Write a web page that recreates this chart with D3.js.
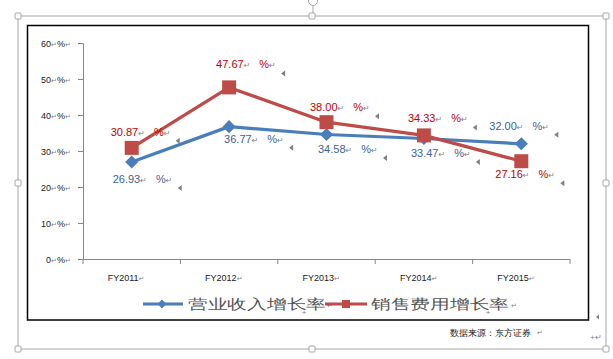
<!DOCTYPE html>
<html><head><meta charset="utf-8">
<script src="https://cdn.jsdelivr.net/npm/d3@7"></script>
<style>
html,body{margin:0;padding:0;background:#fff;}
svg{display:block;}
text{font-family:"Liberation Sans",Arial,sans-serif;}
</style></head>
<body>
<svg id="chart" width="613" height="359"></svg>
<script>
// ---- data ----
const categories = ["FY2011","FY2012","FY2013","FY2014","FY2015"];
const revenueGrowth = [26.93, 36.77, 34.58, 33.47, 32.00];
const sellingExpenseGrowth = [30.87, 47.67, 38.00, 34.33, 27.16];
const yTicks = [0, 10, 20, 30, 40, 50, 60];
const seriesNames = ["营业收入增长率", "销售费用增长率"];
const sourceNote = "数据来源：东方证券";

// ---- layout (label nudges, not data) ----
const revenueLabelOffsets = [[-19, 21], [-5, 16], [-8.5, 18.5], [-13, 18.5], [-32, -14]];
const expenseLabelOffsets = [[-21, -12], [-13, -19], [-16.5, -11], [-16, -13], [-26, 17]];

const svg = d3.select("#chart");
const arrowColor = "#7f7f7f";

// outer word frame
const frame = {l: 18, t: 16, r: 606, b: 349};
svg.append("rect").attr("x", frame.l).attr("y", frame.t)
  .attr("width", frame.r - frame.l).attr("height", frame.b - frame.t)
  .attr("fill", "none").attr("stroke", "#a6a6a6").attr("stroke-width", 1);
// rotation handle
svg.append("line").attr("x1", 313).attr("x2", 313).attr("y1", 6).attr("y2", 16).attr("stroke", "#a6a6a6");
svg.append("circle").attr("cx", 313).attr("cy", 1).attr("r", 4.5).attr("fill", "#fff").attr("stroke", "#a6a6a6");
const midX = (frame.l + frame.r) / 2, midY = 183;
const handles = [[frame.l, frame.t], [midX, frame.t], [frame.r, frame.t], [frame.l, midY], [frame.r, midY],
                 [frame.l, frame.b], [midX, frame.b], [frame.r, frame.b]];
svg.selectAll("rect.h").data(handles).join("rect").attr("class", "h")
  .attr("x", d => d[0] - 3).attr("y", d => d[1] - 3).attr("width", 6).attr("height", 6)
  .attr("rx", 1).attr("fill", "#fff").attr("stroke", "#a6a6a6");

// inner chart border
svg.append("rect").attr("x", 27.5).attr("y", 25.5).attr("width", 561).attr("height", 294.5)
  .attr("fill", "none").attr("stroke", "#000").attr("stroke-width", 1.5);

// scales
const x = d3.scaleBand().domain(categories).range([83, 570]);
const y = d3.scaleLinear().domain([0, 60]).range([259, 43]);
const axisColor = "#868686";

// y axis
const yAxis = svg.append("g").attr("transform", "translate(83,0)")
  .call(d3.axisLeft(y).tickValues(yTicks).tickSize(5).tickFormat(""));
yAxis.select(".domain").attr("stroke", axisColor);
yAxis.selectAll(".tick line").attr("stroke", axisColor);
const yl = svg.append("g").selectAll("text").data(yTicks).join("text")
  .attr("y", d => y(d) + 3.5)
  .attr("font-size", 9).attr("fill", "#222");
yl.each(function(d) {
  const t = d3.select(this);
  const s = String(d);
  t.attr("x", 72 - 21 - s.length * 5);
  t.append("tspan").text(s);
  t.append("tspan").text("↵").attr("font-size", 7).attr("fill", arrowColor).attr("font-family", "DejaVu Sans");
  t.append("tspan").text("%");
  t.append("tspan").text("↵").attr("font-size", 7).attr("fill", arrowColor).attr("font-family", "DejaVu Sans");
});

// x axis
const xAxis = svg.append("g").attr("transform", "translate(0,259)")
  .call(d3.axisBottom(x).tickSize(0).tickFormat(""));
xAxis.select(".domain").attr("stroke", axisColor).attr("d", "M83,0.5H570");
const bounds = [83].concat(categories.map(c => x(c) + x.bandwidth()));
svg.append("g").selectAll("line").data(bounds).join("line")
  .attr("x1", d => d).attr("x2", d => d).attr("y1", 259).attr("y2", 264)
  .attr("stroke", axisColor);
svg.append("g").selectAll("text").data(categories).join("text")
  .attr("x", d => x(d) + x.bandwidth() / 2 - 24).attr("y", 281)
  .attr("font-size", 9).attr("fill", "#222")
  .each(function(d) {
    const t = d3.select(this);
    t.append("tspan").text(d);
    t.append("tspan").text("↵").attr("font-size", 7).attr("fill", arrowColor).attr("font-family", "DejaVu Sans");
  });

const cx = c => x(c) + x.bandwidth() / 2;
const blue = "#4a7ebb", red = "#be4b48";
const line = d3.line().x(d => cx(d.c)).y(d => y(d.v));
const revData = categories.map((c, i) => ({c, v: revenueGrowth[i], o: revenueLabelOffsets[i]}));
const expData = categories.map((c, i) => ({c, v: sellingExpenseGrowth[i], o: expenseLabelOffsets[i]}));

svg.append("path").datum(revData).attr("d", line).attr("fill", "none")
  .attr("stroke", blue).attr("stroke-width", 3.2).attr("stroke-linejoin", "round");
svg.append("path").datum(expData).attr("d", line).attr("fill", "none")
  .attr("stroke", red).attr("stroke-width", 3.2).attr("stroke-linejoin", "round");

// markers
svg.append("g").selectAll("path").data(revData).join("path")
  .attr("d", d3.symbol().type(d3.symbolDiamond2).size(110))
  .attr("transform", d => `translate(${cx(d.c)},${y(d.v)})`)
  .attr("fill", blue);
svg.append("g").selectAll("rect").data(expData).join("rect")
  .attr("x", d => cx(d.c) - 7).attr("y", d => y(d.v) - 7)
  .attr("width", 14).attr("height", 14).attr("fill", red);

// data labels
function labels(data, color) {
  const g = svg.append("g");
  data.forEach(d => {
    const bx = cx(d.c) + d.o[0], by = y(d.v) + d.o[1];
    const t = g.append("text").attr("x", bx).attr("y", by).attr("font-size", 11).attr("fill", color);
    t.append("tspan").text(d.v.toFixed(2));
    t.append("tspan").text("↵").attr("font-size", 8).attr("fill", arrowColor).attr("font-family", "DejaVu Sans");
    t.append("tspan").text("%").attr("dx", 9);
    t.append("tspan").text("↵").attr("font-size", 8).attr("fill", arrowColor).attr("font-family", "DejaVu Sans");
    g.append("path").attr("d", `M${bx + 65},${by + 5}l4,-3v6z`).attr("fill", arrowColor);
  });
}
labels(expData, "#c00000");
labels(revData, "#3b6396");

// legend
const lg = svg.append("g");
lg.append("line").attr("x1", 143).attr("x2", 183).attr("y1", 304).attr("y2", 304).attr("stroke", blue).attr("stroke-width", 3.2);
lg.append("path").attr("d", d3.symbol().type(d3.symbolDiamond2).size(50)).attr("transform", "translate(162,304)").attr("fill", blue);
lg.append("text").attr("x", 188).attr("y", 309).attr("font-size", 14)
  .attr("font-family", "'Noto Sans CJK SC'").attr("font-weight", 300).attr("fill", "#555")
  .attr("textLength", 138).attr("lengthAdjust", "spacingAndGlyphs").text(seriesNames[0]);
lg.append("text").attr("x", 327).attr("y", 308).attr("font-size", 7).attr("fill", arrowColor).attr("font-family", "DejaVu Sans").text("↵");
lg.append("line").attr("x1", 325).attr("x2", 367).attr("y1", 304).attr("y2", 304).attr("stroke", red).attr("stroke-width", 3.2);
lg.append("rect").attr("x", 342).attr("y", 300).attr("width", 8).attr("height", 8).attr("fill", red);
lg.append("text").attr("x", 371).attr("y", 309).attr("font-size", 14)
  .attr("font-family", "'Noto Sans CJK SC'").attr("font-weight", 300).attr("fill", "#555")
  .attr("textLength", 138).attr("lengthAdjust", "spacingAndGlyphs").text(seriesNames[1]);
lg.append("text").attr("x", 511).attr("y", 308).attr("font-size", 7).attr("fill", arrowColor).attr("font-family", "DejaVu Sans").text("↵");
[[304, 312], [488, 312]].forEach(p => {
  lg.append("text").attr("x", p[0]).attr("y", p[1] + 3).attr("font-size", 8).attr("text-anchor", "middle").attr("fill", arrowColor).text("+");
});
svg.append("path").attr("d", "M596,317l3,-2.5v5z").attr("fill", arrowColor);

// source note
svg.append("text").attr("x", 450).attr("y", 336).attr("font-size", 9.4)
  .attr("font-family", "'Noto Sans CJK SC'").attr("fill", "#222").text(sourceNote);
svg.append("text").attr("x", 537).attr("y", 335).attr("font-size", 7).attr("fill", arrowColor).attr("font-family", "DejaVu Sans").text("↵");
svg.append("text").attr("x", 590).attr("y", 340).attr("font-size", 8).attr("fill", arrowColor).attr("font-family", "DejaVu Sans").text("+↵");
</script>
</body></html>
